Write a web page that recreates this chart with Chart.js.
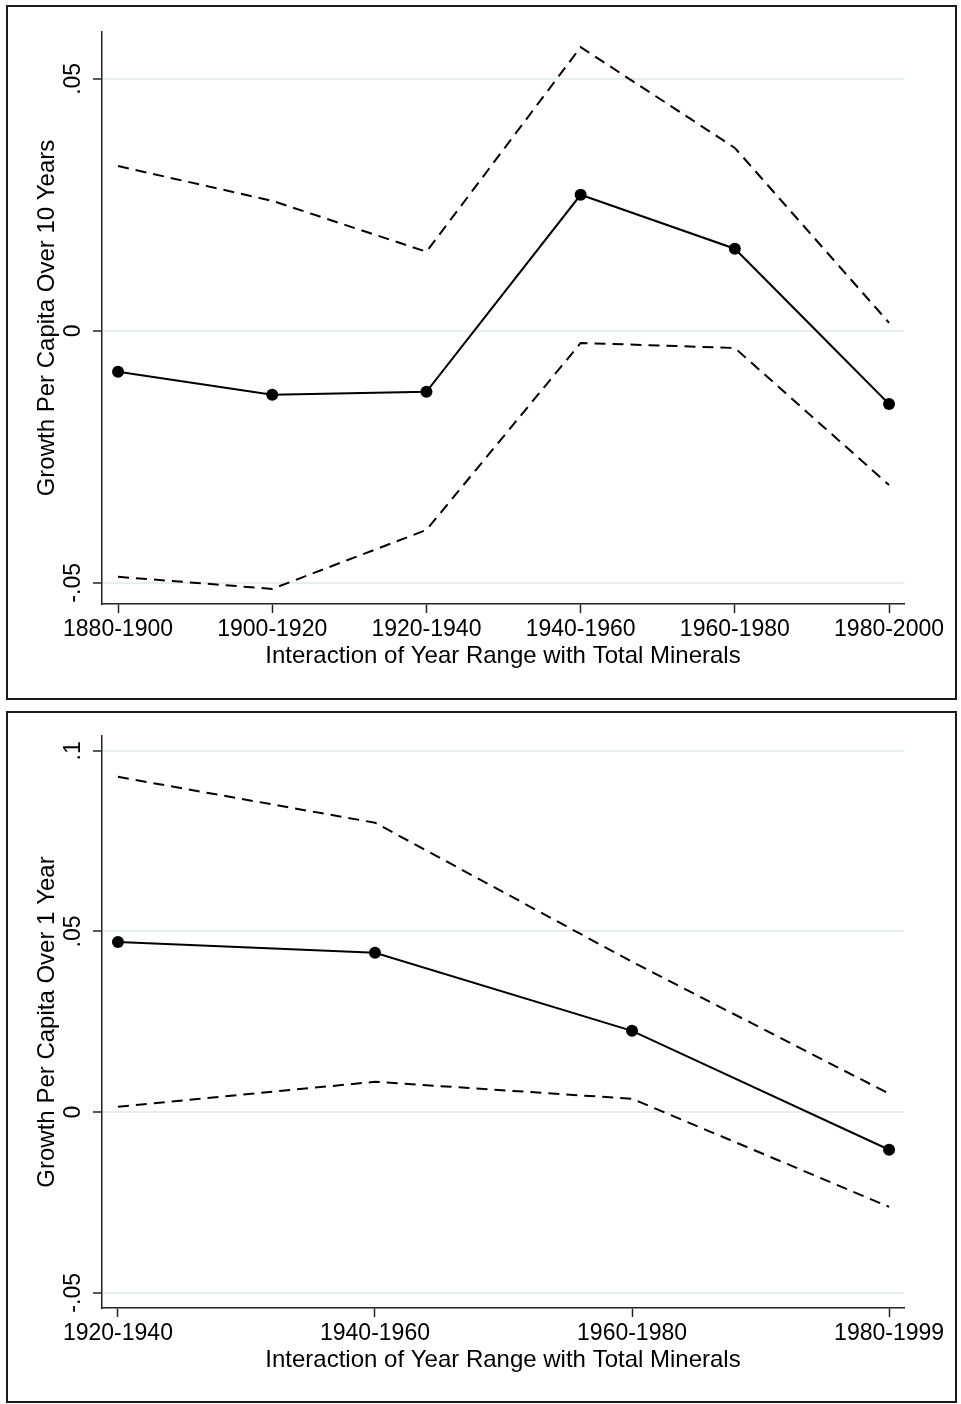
<!DOCTYPE html>
<html>
<head>
<meta charset="utf-8">
<script src="https://cdn.jsdelivr.net/npm/chart.js@4.4.1/dist/chart.umd.min.js"></script>
<style>
  html, body { margin: 0; padding: 0; background: #fff; }
  body { width: 961px; height: 1404px; position: relative; overflow: hidden; }
  .panel { position: absolute; border: 2px solid #1a1a1a; box-sizing: border-box; }
  canvas { position: absolute; left: 0; }
</style>
</head>
<body>
<div class="panel" style="left:6px; top:5px; width:951px; height:695px;"></div>
<div class="panel" style="left:6px; top:711px; width:951px; height:692px;"></div>
<canvas id="c1" width="961" height="705" style="top:0px;"></canvas>
<canvas id="c2" width="961" height="699" style="top:705px;"></canvas>
<script>
// ---- Top panel data ----
const topCategories = ['1880-1900', '1900-1920', '1920-1940', '1940-1960', '1960-1980', '1980-2000'];
const topEstimate = [-0.0081, -0.0127, -0.0121, 0.0270, 0.0163, -0.0145];
const topUpper = [0.0327, 0.0258, 0.0157, 0.0563, 0.0363, 0.0016];
const topLower = [-0.0488, -0.0512, -0.0395, -0.0024, -0.0034, -0.0306];
const topYTicks = [-0.05, 0, 0.05];
const topYTickLabels = ['-.05', '0', '.05'];
const topYTitle = 'Growth Per Capita Over 10 Years';

// ---- Bottom panel data ----
const botCategories = ['1920-1940', '1940-1960', '1960-1980', '1980-1999'];
const botEstimate = [0.0471, 0.0441, 0.0225, -0.0104];
const botUpper = [0.0928, 0.0801, 0.0416, 0.0051];
const botLower = [0.0015, 0.0084, 0.0037, -0.0262];
const botYTicks = [-0.05, 0, 0.05, 0.1];
const botYTickLabels = ['-.05', '0', '.05', '.1'];
const botYTitle = 'Growth Per Capita Over 1 Year';

const xTitle = 'Interaction of Year Range with Total Minerals';

const FONT = "'Liberation Sans', Arial, Helvetica, sans-serif";

const rotatedYLabels = {
  id: 'rotatedYLabels',
  afterDraw(chart, args, opts) {
    const ys = chart.scales.y;
    const ctx = chart.ctx;
    ctx.save();
    ctx.fillStyle = '#000';
    ctx.font = '23px ' + FONT;
    ctx.textAlign = 'center';
    ctx.textBaseline = 'middle';
    opts.values.forEach((v, i) => {
      const py = ys.getPixelForValue(v);
      ctx.save();
      ctx.translate(opts.x, py);
      ctx.rotate(-Math.PI / 2);
      ctx.fillText(opts.labels[i], 0, 0);
      ctx.restore();
    });
    ctx.restore();
  }
};

function toPts(arr) { return arr.map((v, i) => ({ x: i, y: v })); }

function makeChart(id, cats, est, up, lo, yTicks, yLabels, yTitle, cfg) {
  return new Chart(document.getElementById(id), {
    type: 'line',
    data: {
      datasets: [
        { data: toPts(up), borderColor: '#000', borderWidth: 2, borderDash: [11, 7], pointRadius: 0, tension: 0, fill: false },
        { data: toPts(lo), borderColor: '#000', borderWidth: 2, borderDash: [11, 7], pointRadius: 0, tension: 0, fill: false },
        { data: toPts(est), borderColor: '#000', borderWidth: 2, pointRadius: 6, pointBackgroundColor: '#000', pointBorderColor: '#000', pointBorderWidth: 0, tension: 0, fill: false }
      ]
    },
    options: {
      responsive: false,
      animation: false,
      devicePixelRatio: 1,
      layout: { padding: { left: 0, right: 57, top: cfg.top, bottom: cfg.bottomPad } },
      plugins: {
        legend: { display: false },
        tooltip: { enabled: false },
        rotatedYLabels: { values: yTicks, labels: yLabels, x: 74 }
      },
      scales: {
        x: {
          type: 'linear',
          min: cfg.xmin,
          max: cfg.xmax,
          afterBuildTicks: s => { s.ticks = cats.map((_, i) => ({ value: i })); },
          afterFit: s => { s.height = 90; },
          ticks: {
            autoSkip: false, maxRotation: 0, minRotation: 0,
            padding: 3,
            color: '#000',
            font: { family: FONT, size: 23 },
            callback: v => cats[v]
          },
          grid: { drawOnChartArea: false, drawTicks: true, tickLength: 9, tickColor: '#222', tickWidth: 1.5 },
          border: { display: true, color: '#222', width: 1.5 },
          title: {
            display: true, text: xTitle, color: '#000',
            font: { family: FONT, size: 24 },
            padding: { top: 0, bottom: 23 }
          }
        },
        y: {
          type: 'linear',
          min: cfg.ymin,
          max: cfg.ymax,
          afterBuildTicks: s => { s.ticks = yTicks.map(v => ({ value: v })); },
          afterFit: s => { s.width = 102; },
          ticks: { display: false },
          grid: { color: '#e6eef0', lineWidth: 2, drawTicks: true, tickLength: 9, tickColor: '#222', tickWidth: 1.5 },
          border: { display: true, color: '#222', width: 1.5 },
          title: {
            display: true, text: yTitle, color: '#000',
            font: { family: FONT, size: 24 },
            padding: { top: 33, bottom: 0 }
          }
        }
      }
    },
    plugins: [rotatedYLabels]
  });
}

makeChart('c1', topCategories, topEstimate, topUpper, topLower, topYTicks, topYTickLabels, topYTitle,
  { top: 32, bottomPad: 11, xmin: -0.104, xmax: 5.097, ymin: -0.0542, ymax: 0.0593 });
makeChart('c2', botCategories, botEstimate, botUpper, botLower, botYTicks, botYTickLabels, botYTitle,
  { top: 31, bottomPad: 6, xmin: -0.062, xmax: 3.058, ymin: -0.0542, ymax: 0.1041 });
</script>
</body>
</html>
